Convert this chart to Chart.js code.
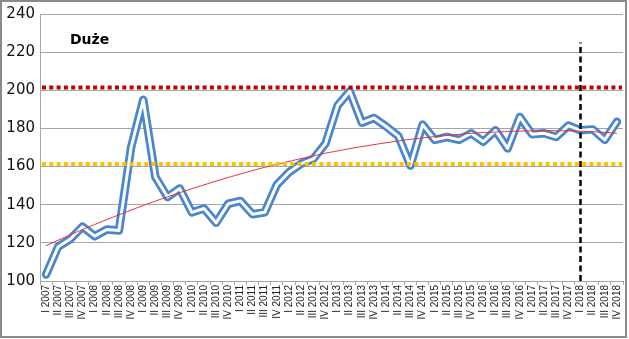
<!DOCTYPE html>
<html>
<head>
<meta charset="utf-8">
<script src="https://cdn.jsdelivr.net/npm/chart.js@4"></script>
<style>
  html, body { margin: 0; padding: 0; background: #fff; }
  #wrap { width: 629px; height: 339px; }
</style>
</head>
<body>
<div id="wrap"><canvas id="chart" width="629" height="339"></canvas></div>
<script>
// quarterly index, large units
const quarters = [
    'I 2007', 'II 2007', 'III 2007', 'IV 2007',
    'I 2008', 'II 2008', 'III 2008', 'IV 2008',
    'I 2009', 'II 2009', 'III 2009', 'IV 2009',
    'I 2010', 'II 2010', 'III 2010', 'IV 2010',
    'I 2011', 'II 2011', 'III 2011', 'IV 2011',
    'I 2012', 'II 2012', 'III 2012', 'IV 2012',
    'I 2013', 'II 2013', 'III 2013', 'IV 2013',
    'I 2014', 'II 2014', 'III 2014', 'IV 2014',
    'I 2015', 'II 2015', 'III 2015', 'IV 2015',
    'I 2016', 'II 2016', 'III 2016', 'IV 2016',
    'I 2017', 'II 2017', 'III 2017', 'IV 2017',
    'I 2018', 'II 2018', 'III 2018', 'IV 2018'
];

const prices = [
    103.4, 118, 122, 128.5,
    123.5, 127, 126.5, 170,
    195, 154.5, 144, 148.5,
    136, 138, 130.5, 140.5,
    142, 135, 136, 150.5,
    157, 161.5, 164, 172,
    192, 199.5, 183, 185.5,
    181, 176, 160.5, 182,
    174, 175.5, 174, 177.5,
    173, 179, 169.5, 186,
    177, 177.5, 175.5, 181.5,
    179, 179.5, 174, 183.5
];

const trend = [
    118.5, 121.4, 124.2, 127.0, 129.6, 132.2, 134.7, 137.2,
    139.6, 141.9, 144.1, 146.3, 148.4, 150.4, 152.4, 154.3,
    156.1, 157.9, 159.6, 161.2, 162.7, 164.2, 165.6, 167.0,
    168.2, 169.4, 170.5, 171.5, 172.5, 173.4, 174.3, 175.0,
    175.7, 176.3, 176.9, 177.4, 177.8, 178.1, 178.4, 178.6,
    178.7, 178.8, 178.8, 178.7, 178.5, 178.3, 177.9, 177.5
];

const upperLevel = 201.5;
const lowerLevel = 161.3;
const markerQuarter = 'I 2018';
const markerSpan = [100, 225];
const chartTitle = 'Duże';

const lineBlue = '#4A86CE';

const extras = {
    id: 'extras',
    beforeDraw(chart) {
        const ctx = chart.ctx;
        ctx.save();
        ctx.fillStyle = '#fff';
        ctx.fillRect(0, 0, chart.width, chart.height);
        ctx.restore();
    },
    afterDatasetsDraw(chart) {
        const ctx = chart.ctx;
        const a = chart.chartArea;
        const y = chart.scales.y;
        ctx.save();
        ctx.lineWidth = 4;
        ctx.lineCap = 'butt';
        ctx.setLineDash([4, 3.3]);
        [[upperLevel, '#C00000'], [lowerLevel, '#FFC000']].forEach(([v, col]) => {
            const py = y.getPixelForValue(v);
            ctx.strokeStyle = col;
            ctx.beginPath();
            ctx.moveTo(a.left + 2, py);
            ctx.lineTo(a.right - 1, py);
            ctx.stroke();
        });
        ctx.restore();
    },
    afterDraw(chart) {
        const ctx = chart.ctx;
        const a = chart.chartArea;
        ctx.save();
        ctx.fillStyle = '#000';
        ctx.font = 'bold 14px "DejaVu Sans"';
        ctx.textBaseline = 'alphabetic';
        ctx.fillText(chartTitle, a.left + 30, a.top + 30);
        ctx.strokeStyle = '#8a8a8a';
        ctx.lineWidth = 2;
        ctx.strokeRect(1, 1, 625, 336);
        ctx.restore();
    }
};

const ctx = document.getElementById('chart').getContext('2d');
new Chart(ctx, {
    type: 'line',
    data: {
        labels: quarters,
        datasets: [
            {
                // vertical marker
                data: [{ x: markerQuarter, y: markerSpan[0] }, { x: markerQuarter, y: markerSpan[1] }],
                borderColor: '#000',
                borderWidth: 2.5,
                borderDash: [6, 3.5],
                pointRadius: 0,
                order: 1
            },
            {
                data: trend,
                borderColor: '#E8303A',
                borderWidth: 1,
                pointRadius: 0,
                tension: 0.4,
                order: 2
            },
            {
                // white core of the double line
                data: prices,
                borderColor: '#fff',
                borderWidth: 3,
                borderJoinStyle: 'round',
                borderCapStyle: 'round',
                pointRadius: 0,
                tension: 0,
                order: 3
            },
            {
                data: prices,
                borderColor: lineBlue,
                borderWidth: 8.5,
                borderJoinStyle: 'round',
                borderCapStyle: 'round',
                pointRadius: 0,
                tension: 0,
                order: 4
            }
        ]
    },
    options: {
        responsive: false,
        animation: false,
        layout: { padding: { top: 14, right: 5, bottom: 8, left: 0 } },
        plugins: {
            legend: { display: false },
            tooltip: { enabled: false }
        },
        scales: {
            x: {
                offset: true,
                afterFit: s => { s.height = 50; },
                border: { color: '#a6a6a6' },
                grid: {
                    offset: true,
                    drawOnChartArea: false,
                    tickLength: 4,
                    color: '#a6a6a6'
                },
                ticks: {
                    autoSkip: false,
                    maxRotation: 90,
                    minRotation: 90,
                    padding: 0,
                    color: '#222',
                    font: { family: 'Liberation Sans', size: 10 }
                }
            },
            y: {
                min: 100,
                max: 240,
                afterFit: s => { s.width = 40; },
                border: { color: '#a6a6a6' },
                grid: { color: '#a6a6a6', drawTicks: false },
                ticks: {
                    stepSize: 20,
                    padding: 5,
                    color: '#111',
                    font: { family: 'DejaVu Sans', size: 15 }
                }
            }
        }
    },
    plugins: [extras]
});
</script>
</body>
</html>
